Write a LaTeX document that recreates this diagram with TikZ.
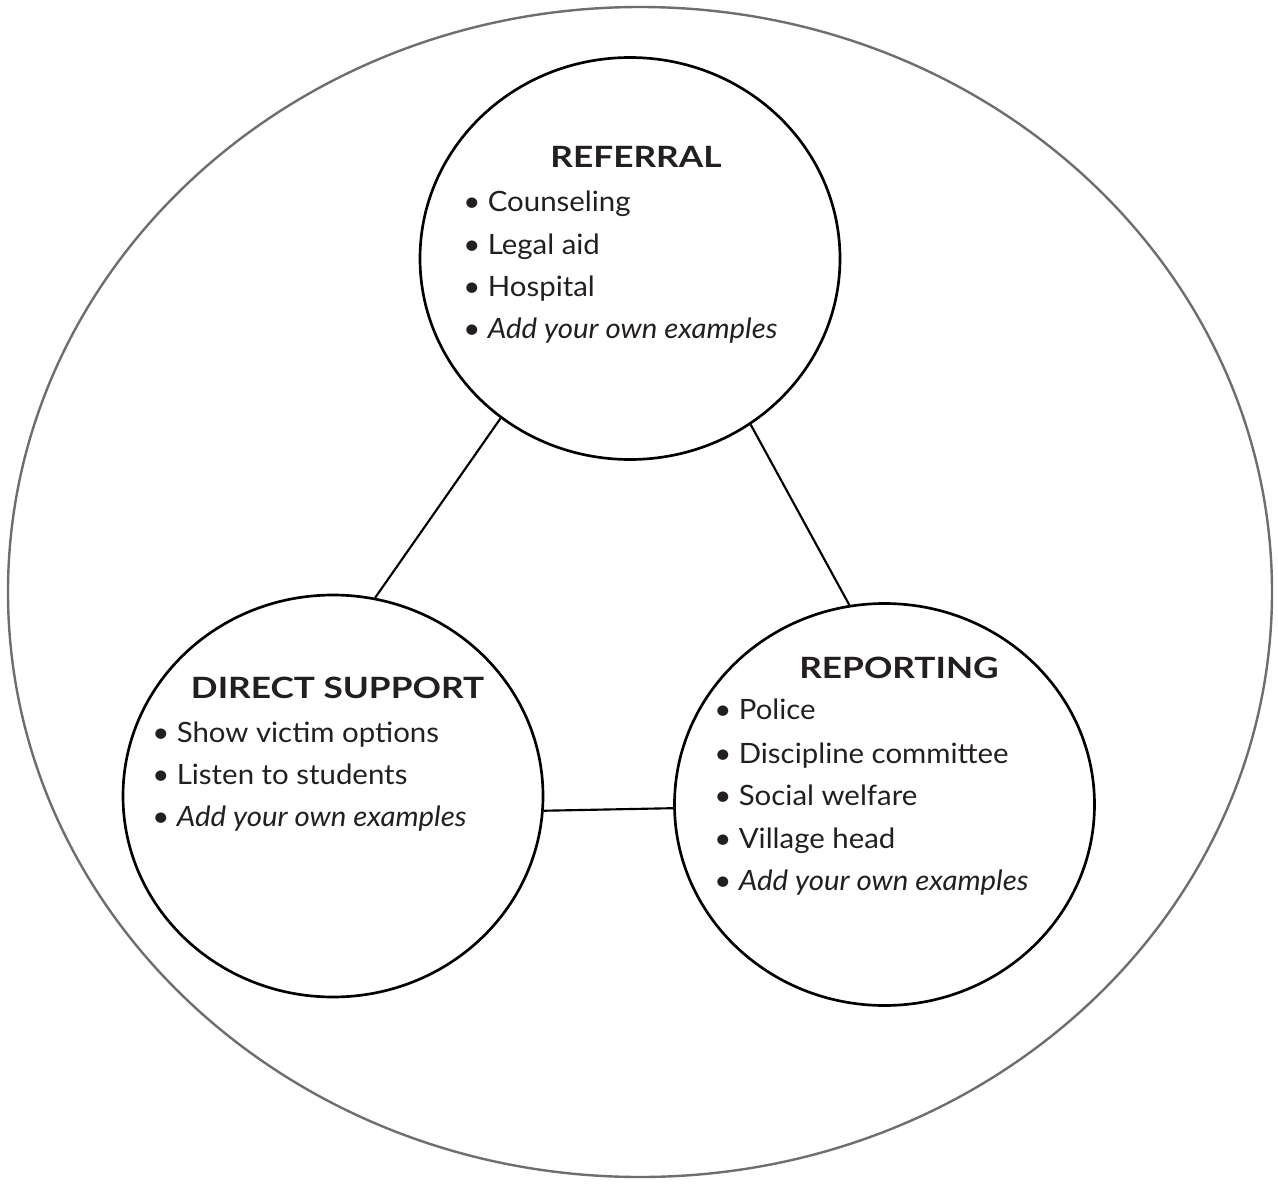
\documentclass[tikz,border=0pt]{standalone}
\usepackage{fontspec}
\setmainfont{Lato}[FakeStretch=1.05]
\newfontfamily\titlefont{Lato}[FakeStretch=1.2]
\usetikzlibrary{shapes.geometric}
\definecolor{textdark}{HTML}{231F20}
\definecolor{rimgray}{HTML}{6E6E6E}
\begin{document}
\begin{tikzpicture}[x=0.75pt,y=-0.75pt,
  rim/.style={ellipse,draw=rimgray,line width=1.8pt,minimum width=948pt,minimum height=877.5pt,inner sep=0pt},
  bubble/.style={ellipse,draw=black,line width=2pt,minimum width=315pt,minimum height=301.5pt,inner sep=0pt},
  link/.style={line width=1.6pt,draw=black},
  title/.style={font=\titlefont\fontsize{22}{22}\selectfont\bfseries,text=textdark,anchor=base,inner sep=0pt},
  item/.style={font=\fontsize{21}{21}\selectfont,text=textdark,anchor=base west,inner sep=0pt}]
\useasboundingbox (0,0) rectangle (1278,1184);
\node[rim] (outer) at (640,592) {};
\node[bubble] (ref) at (630,258.5) {};
\node[bubble] (dir) at (333,796) {};
\node[bubble] (rep) at (884.5,804.5) {};
\draw[link] (ref.231.2) -- (dir.78);
\draw[link] (ref.306.2) -- (rep.100.1);
\draw[link] (dir.356.4) -- (rep.181.2);
% REFERRAL
\node[title] (refT) at (636,168) {REFERRAL};
\node[item] (ref1) at (463,212) {• Counseling};
\node[item] (ref2) at (463,254) {• Legal aid};
\node[item] (ref3) at (463,296) {• Hospital};
\node[item] (ref4) at (463,338) {• \textit{Add your own examples}};
% DIRECT SUPPORT
\node[title] (dirT) at (337.5,698) {DIRECT SUPPORT};
\node[item] (dir1) at (152,742) {• Show victim options};
\node[item] (dir2) at (152,784) {• Listen to students};
\node[item] (dir3) at (152,826) {• \textit{Add your own examples}};
% REPORTING
\node[title] (repT) at (899,678) {REPORTING};
\node[item] (rep1) at (714,719) {• Police};
\node[item] (rep2) at (714,763) {• Discipline committee};
\node[item] (rep3) at (714,805) {• Social welfare};
\node[item] (rep4) at (714,848) {• Village head};
\node[item] (rep5) at (714,890) {• \textit{Add your own examples}};
\end{tikzpicture}
\end{document}
